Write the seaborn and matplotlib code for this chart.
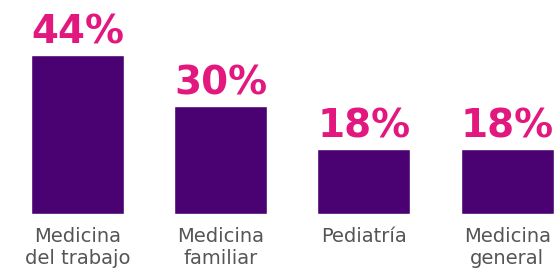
# Especialidades médicas - gráfico de barras
import pandas as pd
import matplotlib
matplotlib.use('Agg')
import matplotlib.pyplot as plt
import seaborn as sns

# Datos
especialidades = ['Medicina\ndel trabajo', 'Medicina\nfamiliar', 'Pediatría', 'Medicina\ngeneral']
porcentajes = [44, 30, 18, 18]

df = pd.DataFrame({'especialidad': especialidades, 'porcentaje': porcentajes})

sns.set_style('white')
plt.rcParams['font.family'] = ['DejaVu Sans']

fig = plt.figure(figsize=(5.56, 2.75), dpi=100)
ax = fig.add_axes([0, 0, 1, 1])

sns.barplot(x='especialidad', y='porcentaje', data=df, color='#4a0272',
            saturation=1, width=0.65, ax=ax)

ax.set_xlim(-0.541, 3.341)
ax.set_ylim(-16.87, 59.2)
ax.axis('off')

# Etiquetas de porcentaje
for i, v in enumerate(df['porcentaje']):
    ax.annotate(f'{v}%', (i, v), xytext=(0, 2.5), textcoords='offset points',
                ha='center', va='bottom', fontsize=28, fontweight='bold',
                color='#e2187e')

# Etiquetas de categoría
for i, name in enumerate(df['especialidad']):
    ax.annotate(name, (i, 0), xytext=(0, -9), textcoords='offset points',
                ha='center', va='top', fontsize=14, color='#555555',
                linespacing=1.2)

plt.savefig('out.png', dpi=100)
